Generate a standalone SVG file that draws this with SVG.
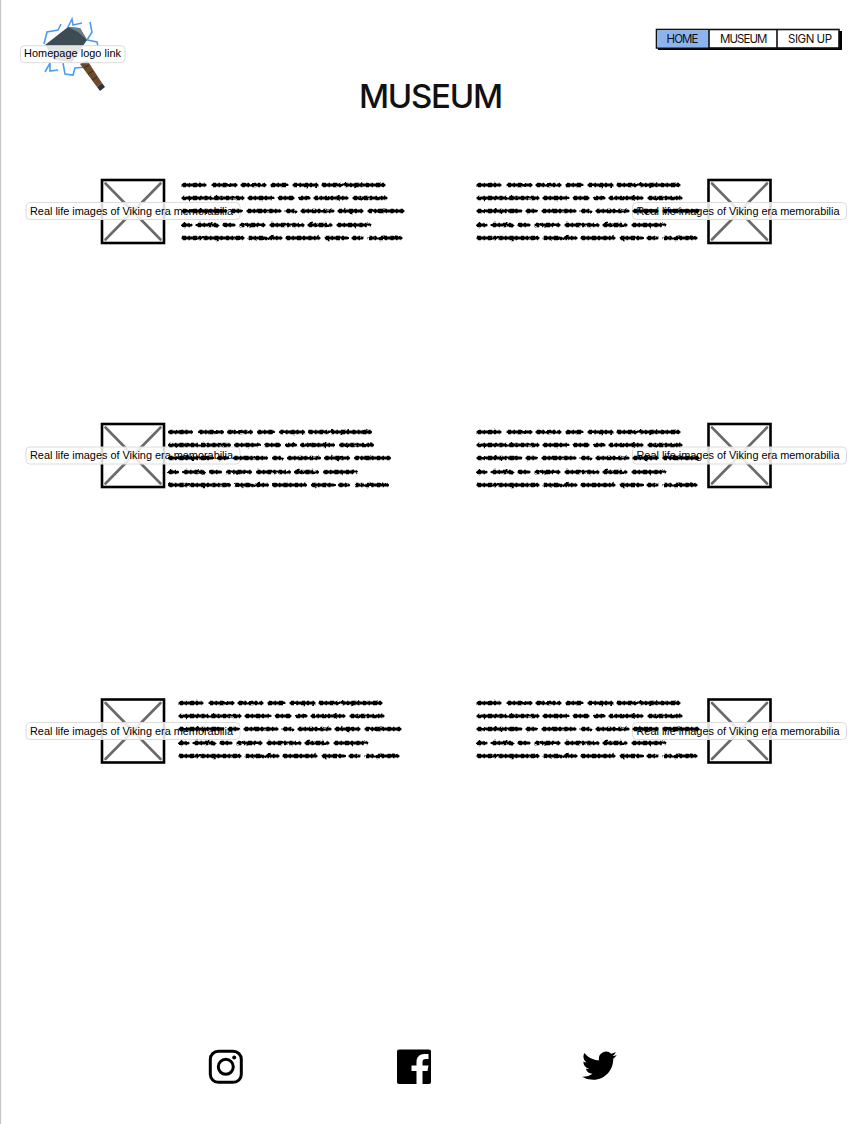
<svg xmlns="http://www.w3.org/2000/svg" width="857" height="1124" viewBox="0 0 857 1124">
<style>
.bg{fill:#fff}
.frame{fill:#fff;stroke:#000;stroke-width:2.6}
.cross{stroke:#6a6a6a;stroke-width:2.6;fill:none;stroke-linecap:round}
.tip{fill:#fff;fill-opacity:.85;stroke:#dcdcdc;stroke-width:1}
.tiptext{font-family:"Liberation Sans",Arial,sans-serif;font-size:10.900px;fill:#000}
.nav{font-family:"Inter","Liberation Sans",sans-serif;font-size:11.500px;fill:#111}
.title{font-family:"Inter","Liberation Sans",sans-serif;font-size:33px;font-weight:500;fill:#111}
.scr-base{stroke:#000;stroke-width:3.200;fill:none;stroke-linecap:round}
.scr-lump{stroke:#000;stroke-width:4.600;fill:none;stroke-dasharray:3 2.500 1.500 3 4 2 2 3.500}
.bolt{stroke:#4b9df2;stroke-width:1.600;fill:none}
</style>
<defs>
<filter id="rough" x="-5%" y="-10%" width="110%" height="120%">
<feTurbulence type="fractalNoise" baseFrequency=".18" numOctaves="2" seed="7"/>
<feDisplacementMap in="SourceGraphic" scale="2.400" xChannelSelector="R" yChannelSelector="G"/>
</filter>
<path id="scribble-lines" d="M1 0h22M31 0h23M60 0h23M90 0h15M112 0h23M141 0h61M1 13h60M67 13h23M97 13h14M118 13h9M133 13h32M172 13h32M1 26h43M50 26h9M66 26h32M105 26h9M120 26h31M157 26h23M187 26h34M1 40h8M16 40h19M42 40h10M59 40h23M89 40h32M127 40h22M156 40h32M1 53h60M67 53h32M105 53h32M144 53h21M171 53h9M187 53h32"/>
<g id="scribble" filter="url(#rough)">
<use href="#scribble-lines" class="scr-base"/>
<use href="#scribble-lines" class="scr-lump"/>
</g>
<g id="pic">
<rect class="frame" x="0" y="0" width="62" height="63"/>
<path class="cross" d="M3.500 3.500L58.500 59.500M58.500 3.500L3.500 59.500"/>
</g>
<g id="tipbox">
<rect class="tip" x="0" y="0" width="214" height="17" rx="4"/>
<text class="tiptext" x="4" y="12" textLength="203">Real life images of Viking era memorabilia</text>
</g>
</defs>
<rect class="bg" width="857" height="1124"/>
<rect x="0" y="0" width="1.200" height="1124" fill="#c8c8c8"/>

<g id="logo">
<g class="bolt">
<path d="M44 44L47 32L58 30L61 24M68 27L72 19L73 25L82 23M90 22L92 32L87 40L97 42L98 46M45 72L50 63L50 71L58 70M63 63L65 74L73 75L75 68L87 67"/>
</g>
<path d="M45 45L68 27L80 28L87 40L72 62L55 60Z" fill="#3c4c55"/>
<path d="M68 27L80 28L87 40L78 32Z" fill="#6e7f88"/>
<path d="M80 64L87 60L102 83L97 87Z" fill="#6d4a2b"/>
<path d="M84 68l5-3M88 74l5-3M92 80l5-3" stroke="#3a2a18" stroke-width="1"/>
<path d="M97 87L102 83L105 87L100 91Z" fill="#2f3336"/>
<rect class="tip" x="20.500" y="45.700" width="104.500" height="17" rx="4"/>
<text class="tiptext" x="24" y="57.200" textLength="97">Homepage logo link</text>
</g>

<g id="nav">
<rect x="658" y="31" width="184" height="19" fill="#000"/>
<rect x="656.500" y="29.500" width="182.500" height="18.500" fill="#fff" stroke="#111" stroke-width="1.600"/>
<rect x="657.300" y="30.300" width="51.500" height="17" fill="#8cb4ee"/>
<path d="M709 29.500V48M777 29.500V48" stroke="#111" stroke-width="1.600"/>
<text class="nav" x="666.500" y="42.500" textLength="32">HOME</text>
<text class="nav" x="720" y="42.500" textLength="47.500">MUSEUM</text>
<text class="nav" x="788" y="42.500" textLength="44">SIGN UP</text>
</g>

<g id="heading"><text class="title" x="359" y="108" textLength="144">MUSEUM</text></g>

<g id="item-1">
<use href="#pic" x="102" y="180"/><use href="#tipbox" x="26" y="202.500"/><use href="#scribble" x="182" y="185"/>
</g>
<g id="item-2">
<use href="#pic" x="708.500" y="180"/><use href="#tipbox" x="632.500" y="202.500"/><use href="#scribble" x="477" y="185"/>
</g>
<g id="item-3">
<use href="#pic" x="102" y="424"/><use href="#tipbox" x="26" y="447"/><use href="#scribble" x="168.500" y="432"/>
</g>
<g id="item-4">
<use href="#pic" x="708.500" y="424"/><use href="#tipbox" x="632.500" y="447"/><use href="#scribble" x="477" y="432"/>
</g>
<g id="item-5">
<use href="#pic" x="102" y="699.500"/><use href="#tipbox" x="26" y="722.500"/><use href="#scribble" x="179" y="703"/>
</g>
<g id="item-6">
<use href="#pic" x="708.500" y="699.500"/><use href="#tipbox" x="632.500" y="722.500"/><use href="#scribble" x="477" y="703"/>
</g>

<g id="instagram">
<rect x="210.300" y="1051.300" width="31" height="31" rx="8" fill="none" stroke="#000" stroke-width="3"/>
<circle cx="225.800" cy="1066.800" r="7.500" fill="none" stroke="#000" stroke-width="3"/>
<circle cx="234.200" cy="1057.500" r="2" fill="#000"/>
</g>
<g id="facebook">
<rect x="397" y="1049.500" width="34" height="34.500" rx="2" fill="#000"/>
<path d="M422.500 1084V1071h5l1-5.500h-6v-3.500c0-2 1-3 3-3h3v-5h-4c-5 0-8 3-8 8v3.500h-5v5.500h5V1084z" fill="#fff"/>
</g>
<g id="twitter">
<path transform="translate(582 1048.300) scale(1.450)" fill="#000" d="M23.953 4.570a10 10 0 01-2.825.775 4.958 4.958 0 002.163-2.723c-.951.555-2.005.959-3.127 1.184a4.920 4.920 0 00-8.384 4.482C7.690 8.095 4.067 6.130 1.640 3.162a4.822 4.822 0 00-.666 2.475c0 1.710.870 3.213 2.188 4.096a4.904 4.904 0 01-2.228-.616v.060a4.923 4.923 0 003.946 4.827 4.996 4.996 0 01-2.212.085 4.936 4.936 0 004.604 3.417 9.867 9.867 0 01-6.102 2.105c-.390 0-.779-.023-1.170-.067a13.995 13.995 0 007.557 2.209c9.053 0 13.998-7.496 13.998-13.985 0-.210 0-.420-.015-.630A9.935 9.935 0 0024 4.590z"/>
</g>
</svg>
